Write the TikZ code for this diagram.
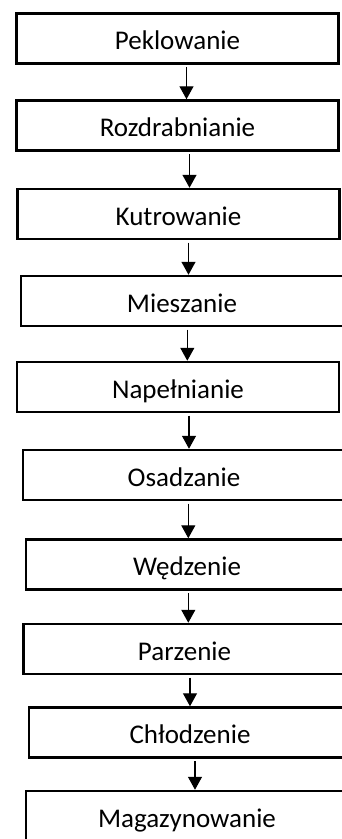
\documentclass[tikz,border=0pt]{standalone}
\usepackage{fontspec}
\setmainfont{Carlito}
\usepackage{tikz}
\usetikzlibrary{arrows.meta}

\begin{document}
\begin{tikzpicture}[x=1pt,y=-1pt,
  stage/.style={draw,line width=2.5pt,minimum width=322pt,minimum height=50pt,inner sep=0pt,
    text height=23pt,text depth=1pt,font=\fontsize{27}{32}\selectfont},
  flow/.style={line width=1.3pt,-{Triangle[length=13pt,width=14pt]},shorten <=2.4pt}]
  \useasboundingbox (0,0) rectangle (342,839);
  \clip (0,0) rectangle (342,839);
  \node [stage] (pekl) at (177.5, 38.3) {Peklowanie};
  \node [stage] (rozdr) at (177.5, 125.5) {Rozdrabnianie};
  \node [stage] (kutr) at (178.5, 214) {Kutrowanie};
  \node [stage] (miesz) at (182, 301) {Mieszanie};
  \node [stage] (napel) at (178, 387) {Napełnianie};
  \node [stage] (osadz) at (184, 475) {Osadzanie};
  \node [stage] (wedz) at (187, 564.5) {Wędzenie};
  \node [stage] (parz) at (184.5, 649) {Parzenie};
  \node [stage] (chlodz) at (190, 732.5) {Chłodzenie};
  \node [stage] (magaz) at (187, 816) {Magazynowanie};
  \draw [flow] ([xshift=9pt]pekl.south) -- ([xshift=9pt]pekl.south |- rozdr.north);
  \draw [flow] ([xshift=12pt]rozdr.south) -- ([xshift=12pt]rozdr.south |- kutr.north);
  \draw [flow] ([xshift=10pt]kutr.south) -- ([xshift=10pt]kutr.south |- miesz.north);
  \draw [flow] ([xshift=5.3pt]miesz.south) -- ([xshift=5.3pt]miesz.south |- napel.north);
  \draw [flow] ([xshift=11pt]napel.south) -- ([xshift=11pt]napel.south |- osadz.north);
  \draw [flow] ([xshift=4.3pt]osadz.south) -- ([xshift=4.3pt]osadz.south |- wedz.north);
  \draw [flow] ([xshift=1.3pt]wedz.south) -- ([xshift=1.3pt]wedz.south |- parz.north);
  \draw [flow] ([xshift=5.5pt]parz.south) -- ([xshift=5.5pt]parz.south |- chlodz.north);
  \draw [flow] ([xshift=5pt]chlodz.south) -- ([xshift=5pt]chlodz.south |- magaz.north);
\end{tikzpicture}
\end{document}
